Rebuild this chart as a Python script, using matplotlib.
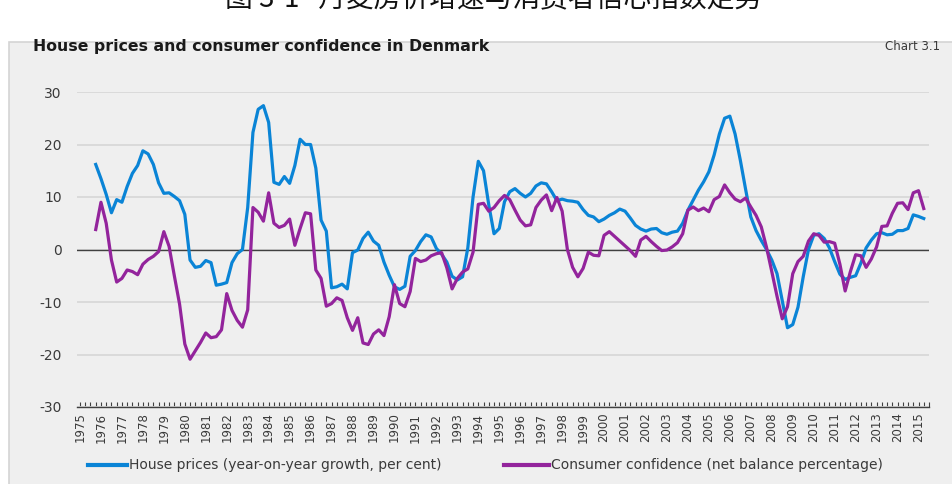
import numpy as np
import matplotlib.pyplot as plt
from matplotlib.patches import Rectangle
from matplotlib.lines import Line2D

plt.rcParams['axes.unicode_minus'] = False

# quarterly observations, 1975 Q4 - 2015 Q2
quarters = np.arange(1975.75, 2015.26, 0.25)

house_prices = [
    16.2, 13.5, 10.5, 7.0, 9.5, 9.0, 12.0, 14.5, 16.0, 18.8,
    18.2, 16.2, 12.7, 10.7, 10.8, 10.1, 9.3, 6.7, -2.0, -3.4,
    -3.2, -2.1, -2.5, -6.8, -6.6, -6.3, -2.5, -0.8, 0.0, 8.0,
    22.3, 26.7, 27.4, 24.2, 12.8, 12.4, 13.9, 12.6, 16.0, 21.0,
    20.0, 20.0, 15.5, 5.6, 3.5, -7.3, -7.1, -6.6, -7.5, -0.6,
    -0.1, 2.1, 3.3, 1.6, 0.8, -2.4, -4.9, -7.1, -7.6, -7.0,
    -1.3, -0.2, 1.5, 2.8, 2.4, 0.2, -0.9, -2.4, -5.1, -5.8,
    -5.2, 0.3, 10.0, 16.8, 15.0, 8.5, 3.0, 4.0, 9.1, 11.0,
    11.6, 10.7, 10.0, 10.7, 12.1, 12.7, 12.5, 11.0, 9.3, 9.6,
    9.3, 9.2, 9.0, 7.6, 6.5, 6.2, 5.3, 5.8, 6.5, 7.0,
    7.7, 7.3, 6.0, 4.6, 3.9, 3.5, 3.9, 4.0, 3.2, 2.9,
    3.3, 3.5, 5.0, 7.5, 9.4, 11.3, 12.9, 14.8, 18.0, 22.0,
    25.0, 25.4, 22.0, 17.0, 11.5, 6.2, 3.6, 1.7, 0.0, -2.0,
    -4.6, -9.8, -14.9, -14.3, -11.0, -5.2, 0.0, 2.7, 3.0, 2.1,
    0.3, -2.3, -4.7, -5.7, -5.3, -5.0, -2.6, 0.3, 1.8, 3.0,
    3.2, 2.8, 2.9, 3.6, 3.6, 4.0, 6.6, 6.3, 5.9,
]

confidence = [
    3.8, 9.0, 5.0, -2.0, -6.2, -5.5, -3.9, -4.2, -4.8, -2.8,
    -1.9, -1.3, -0.4, 3.4, 0.6, -5.0, -10.4, -18.0, -20.9, -19.3,
    -17.7, -15.9, -16.8, -16.6, -15.3, -8.4, -11.6, -13.5, -14.8, -11.5,
    8.0, 7.1, 5.4, 10.8, 5.0, 4.2, 4.6, 5.8, 0.8, 4.0,
    7.0, 6.8, -3.9, -5.5, -10.8, -10.3, -9.2, -9.7, -13.0, -15.4,
    -13.0, -17.8, -18.1, -16.1, -15.3, -16.4, -12.8, -6.7, -10.3, -10.9,
    -8.0, -1.7, -2.3, -2.0, -1.2, -0.8, -0.6, -3.5, -7.5, -5.5,
    -4.3, -3.7, -0.5, 8.6, 8.8, 7.3, 8.0, 9.3, 10.3, 9.5,
    7.5, 5.6, 4.5, 4.7, 8.0, 9.4, 10.4, 7.4, 9.9, 7.3,
    0.0, -3.4, -5.2, -3.6, -0.5, -1.1, -1.2, 2.7, 3.4, 2.5,
    1.6, 0.7, -0.2, -1.3, 1.8, 2.5, 1.5, 0.6, -0.2, -0.1,
    0.5, 1.3, 3.0, 7.5, 8.1, 7.4, 7.9, 7.2, 9.5, 10.1,
    12.3, 10.8, 9.6, 9.1, 9.8, 8.1, 6.5, 4.3, 0.4, -4.2,
    -8.9, -13.2, -10.9, -4.6, -2.3, -1.3, 1.6, 3.0, 2.7, 1.4,
    1.5, 1.2, -2.8, -7.9, -4.2, -1.0, -1.2, -3.4, -1.8, 0.5,
    4.4, 4.5, 6.9, 8.8, 8.9, 7.6, 10.8, 11.2, 7.8,
]

years = list(range(1975, 2016))
y_ticks = [-30, -20, -10, 0, 10, 20, 30]

blue = '#0a84d6'
purple = '#93249c'
text_col = '#3a3a3a'
W, H = 952, 484

fig = plt.figure(figsize=(9.52, 4.84), dpi=100)
fig.patch.set_facecolor('white')

# grey chart panel behind everything
panel = Rectangle((9 / W, -0.01), 1.0, 1 - 42 / H + 0.01, transform=fig.transFigure,
                  facecolor='#efefef', edgecolor='#d4d4d4', lw=1.2, zorder=-10)
fig.patches.append(panel)

# caption, cut off at the top edge as in the source screenshot
fig.text(225 / W, 1 + 1 / H, '图 3-1   丹麦房价增速与消费者信心指数走势', fontsize=20,
         family=['Noto Sans CJK SC', 'DejaVu Sans'], va='center', ha='left', color='#111111')

ax = fig.add_axes([77 / W, 77 / H, (929 - 77) / W, 315 / H], zorder=5)
ax.set_facecolor('none')

ax.plot(quarters, house_prices, color=blue, lw=2.3, zorder=3, solid_joinstyle='round')
ax.plot(quarters, confidence, color=purple, lw=2.3, zorder=4, solid_joinstyle='round')

ax.set_xlim(1975 - 3 / 21, 1975 + (929 - 80) / 21)
ax.set_ylim(-30, 30)
ax.set_yticks(y_ticks)
ax.yaxis.grid(True, color='#d8d8d8', lw=1.3, zorder=1)
ax.set_axisbelow(True)
ax.axhline(0, color='#404040', lw=1.0, zorder=2)

ax.set_xticks(years)
ax.set_xticklabels([str(y) for y in years], rotation=90, fontsize=8.5, color=text_col)
ax.set_xticks(np.arange(1975, 2015.6, 0.25), minor=True)
ax.tick_params(axis='x', which='both', direction='in', length=3.5, width=0.8,
               color='#404040', pad=4)
ax.tick_params(axis='y', length=0, labelsize=10, labelcolor=text_col, pad=11)

for s in ['top', 'right', 'left']:
    ax.spines[s].set_visible(False)
ax.spines['bottom'].set_color('#404040')
ax.spines['bottom'].set_linewidth(1.0)

fig.text(33 / W, 1 - 46 / H, 'House prices and consumer confidence in Denmark',
         fontsize=11.3, fontweight='bold', color='#1a1a1a', va='center')
fig.text(940 / W, 1 - 47 / H, 'Chart 3.1', fontsize=8.5, color=text_col,
         ha='right', va='center')

# legend
ly = 1 - 465 / H
fig.add_artist(Line2D([88 / W, 127 / W], [ly, ly], color=blue, lw=3))
fig.text(129 / W, ly, 'House prices (year-on-year growth, per cent)', fontsize=10,
         color=text_col, va='center')
fig.add_artist(Line2D([504 / W, 549 / W], [ly, ly], color=purple, lw=3))
fig.text(551 / W, ly, 'Consumer confidence (net balance percentage)', fontsize=10,
         color=text_col, va='center')

fig.savefig('out.png', dpi=100, facecolor='white')
